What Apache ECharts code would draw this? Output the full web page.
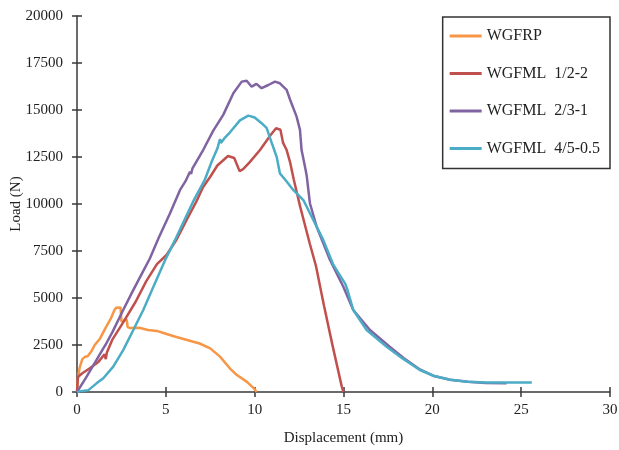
<!DOCTYPE html>
<html>
<head>
<meta charset="utf-8">
<script src="https://cdn.jsdelivr.net/npm/echarts@6/dist/echarts.min.js"></script>
<style>
html,body{margin:0;padding:0;background:#fff;}
#chart{width:619px;height:450px;}
</style>
</head>
<body>
<div id="chart"></div>
<script>
// ---- data ----
const seriesNames = ['WGFRP', 'WGFML  1/2-2', 'WGFML  2/3-1', 'WGFML  4/5-0.5'];

const wgfrpX = [0,0.05,0.15,0.3,0.45,0.6,0.8,1.0,1.3,1.6,1.9,2.1,2.2,2.45,2.48,2.5,2.8,2.85,3.0,3.5,4.0,4.5,5.0,5.5,6.2,6.9,7.5,8.05,8.6,9.0,9.55,10.0,10.1];
const wgfrpY = [0,700,1300,1750,1870,1900,2150,2500,2850,3400,3900,4350,4480,4500,4450,3750,3850,3450,3400,3420,3300,3250,3100,2950,2770,2580,2320,1880,1260,900,550,150,0];

const ml12X = [0,0.05,0.3,0.7,1.2,1.55,1.62,1.68,2.0,2.6,3.3,3.9,4.5,5.05,5.6,6.2,6.7,7.1,7.5,7.9,8.5,8.85,9.15,9.35,9.7,10.3,10.9,11.2,11.45,11.6,11.8,12.0,12.2,12.55,13.1,13.45,13.9,14.4,14.9,15.0];
const ml12Y = [0,800,1000,1250,1600,2000,1750,2100,2800,3700,4800,5900,6800,7300,8100,9200,10100,10900,11450,12050,12550,12450,11750,11850,12200,12870,13670,14030,13950,13250,12870,12200,11300,9900,7900,6700,4600,2400,300,0];

const ml23X = [0,0.5,1.0,1.48,1.6,1.65,2.0,2.6,3.1,3.6,4.1,4.6,5.23,5.8,6.1,6.36,6.42,6.5,7.1,7.67,8.23,8.8,9.27,9.55,9.83,10.1,10.39,10.77,11.14,11.42,11.8,12.0,12.36,12.55,12.64,12.83,12.93,13.11,13.49,14.24,14.99,15.55,16.49,17.6,18.4,19.3,20.1,21.0,22.0,23.0,24.18];
const ml23Y = [0,750,1550,2320,2500,2400,3200,4360,5300,6200,7100,8200,9500,10750,11200,11720,11600,11900,12870,13900,14740,15890,16510,16560,16240,16390,16160,16330,16510,16420,16070,15530,14650,13940,12870,11990,11500,10040,8790,7020,5600,4360,3300,2410,1800,1200,850,650,550,480,460];

const ml45X = [0,0.3,0.64,1.1,1.48,2.04,2.6,3.17,3.73,4.3,4.95,5.5,6.1,6.6,7.2,7.6,7.9,8.05,8.1,8.3,8.6,9.17,9.64,10.0,10.39,10.67,10.96,11.24,11.42,11.8,12.17,12.74,13.3,13.86,14.43,15.1,15.2,15.22,15.55,16.3,17.43,18.3,19.3,20.1,21.0,22.0,23.0,24.0,24.9,25.6];
const ml45Y = [0,50,100,460,730,1350,2230,3300,4360,5600,7000,8050,9250,10250,11300,12300,12950,13450,13250,13500,13800,14450,14700,14600,14300,14050,13250,12500,11630,11200,10750,10210,9150,8090,6760,5750,5500,5450,4360,3300,2410,1800,1170,850,650,550,500,500,510,500];

const xTicks = {min: 0, max: 30, interval: 5};
const yTicks = {min: 0, max: 20000, interval: 2500};

// ---- chart ----
const colors = ['#F79646', '#C0504D', '#8064A2', '#4BACC6'];
const pairs = (xs, ys) => xs.map((x, i) => [x, ys[i]]);
const dataSets = [pairs(wgfrpX, wgfrpY), pairs(ml12X, ml12Y), pairs(ml23X, ml23Y), pairs(ml45X, ml45Y)];

const FONT = '"Liberation Serif", "Times New Roman", serif';
const axisLineStyle = {color: '#3a3a3a', width: 1.5};

const chart = echarts.init(document.getElementById('chart'), null, {renderer: 'canvas'});
chart.setOption({
  animation: false,
  backgroundColor: '#fff',
  color: colors,
  textStyle: {fontFamily: FONT},
  grid: {left: 77, right: 9, top: 16, bottom: 58, containLabel: false, outerBoundsMode: 'none'},
  legend: {
    orient: 'vertical',
    right: 9,
    top: 17,
    data: seriesNames,
    icon: 'rect',
    itemWidth: 32,
    itemHeight: 3,
    itemGap: 21.5,
    padding: [11, 10, 12, 7],
    borderColor: '#333',
    borderWidth: 1.5,
    textStyle: {fontFamily: FONT, fontSize: 16, color: '#222'}
  },
  xAxis: [{
    type: 'value', min: xTicks.min, max: xTicks.max, interval: xTicks.interval,
    name: 'Displacement (mm)', nameLocation: 'middle', nameGap: 39, nameMoveOverlap: false,
    nameTextStyle: {fontFamily: FONT, fontSize: 15, color: '#222'},
    axisLine: {show: true, lineStyle: axisLineStyle},
    axisTick: {show: true, length: 5, lineStyle: axisLineStyle},
    axisLabel: {fontFamily: FONT, fontSize: 15, color: '#222', margin: 11},
    splitLine: {show: false}
  }, {
    type: 'value', min: xTicks.min, max: xTicks.max, interval: xTicks.interval,
    position: 'bottom', offset: 0,
    axisLine: {show: false},
    axisTick: {show: true, inside: true, length: 5, lineStyle: axisLineStyle},
    axisLabel: {show: false},
    splitLine: {show: false}
  }],
  yAxis: [{
    type: 'value', min: yTicks.min, max: yTicks.max, interval: yTicks.interval,
    name: 'Load (N)', nameLocation: 'middle', nameGap: 53, nameRotate: 90, nameMoveOverlap: false,
    nameTextStyle: {fontFamily: FONT, fontSize: 15, color: '#222'},
    axisLine: {show: true, lineStyle: axisLineStyle},
    axisTick: {show: true, length: 5, lineStyle: axisLineStyle},
    axisLabel: {fontFamily: FONT, fontSize: 15, color: '#222', margin: 14, formatter: v => String(v)},
    splitLine: {show: false}
  }, {
    type: 'value', min: yTicks.min, max: yTicks.max, interval: yTicks.interval,
    position: 'left', offset: 0,
    axisLine: {show: false},
    axisTick: {show: true, inside: true, length: 5, lineStyle: axisLineStyle},
    axisLabel: {show: false},
    splitLine: {show: false}
  }],
  series: seriesNames.map((name, i) => ({
    name: name,
    type: 'line',
    xAxisIndex: 0,
    yAxisIndex: 0,
    data: dataSets[i],
    showSymbol: false,
    symbol: 'none',
    lineStyle: {width: 2.5, color: colors[i]},
    itemStyle: {color: colors[i]},
    z: i === 3 ? 5 : 2 + i
  }))
});
</script>
</body>
</html>
